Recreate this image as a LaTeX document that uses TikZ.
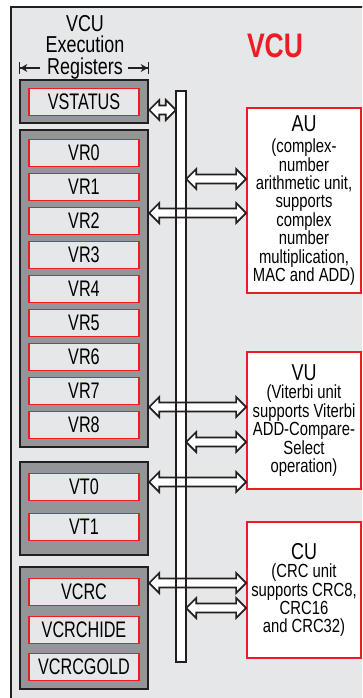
\documentclass[tikz,border=0pt]{standalone}
\usepackage{fontspec}
\setmainfont{Liberation Sans}[FakeStretch=0.78]
\newfontfamily\regfont{Liberation Sans}[FakeStretch=0.72]
\usetikzlibrary{arrows.meta,calc}
\definecolor{vcubg}{HTML}{E6E7E8}
\definecolor{grpgray}{HTML}{939598}
\definecolor{vcured}{HTML}{ED1C24}
\definecolor{inkblack}{HTML}{231F20}

\begin{document}
\begin{tikzpicture}[x=1pt,y=-1pt,
    grp/.style={draw=inkblack, line width=2.4pt, fill=grpgray, minimum width=128pt, inner sep=0pt},
    reg/.style={draw=vcured, line width=1.8pt, fill=vcubg, minimum width=110pt, minimum height=27pt,
      inner sep=0pt, font=\regfont\fontsize{22.5}{22.5}\selectfont},
    unit/.style={draw=vcured, line width=1.8pt, fill=white, minimum width=114pt, inner sep=0pt,
      align=center, font=\fontsize{19}{18.4}\selectfont},
    fatarrow/.style={draw=inkblack, line width=1.7pt, fill=white, line join=miter, to path={
      let \p1=(\tikztostart), \p2=(\tikztotarget) in
      (\x1,\y1) -- (\x1+10pt,\y1+10pt) -- (\x1+10pt,\y1+4.5pt) -- (\x2-10pt,\y1+4.5pt) -- (\x2-10pt,\y1+10pt)
      -- (\x2,\y1) -- (\x2-10pt,\y1-10pt) -- (\x2-10pt,\y1-4.5pt) -- (\x1+10pt,\y1-4.5pt) -- (\x1+10pt,\y1-10pt) -- cycle}},
    dimarrow/.style={draw=inkblack, line width=1.5pt, -{Stealth[length=7pt,width=8pt] Bar[width=12pt]}}]
    \useasboundingbox (0,0) rectangle (362,698);
    \clip (0,0) rectangle (362,698);
    \draw[fill=vcubg, draw=inkblack, line width=2pt] (11,7) rectangle (375,710);

    % titles
    \node[font=\fontsize{23}{21.5}\selectfont, align=center] (ttl) at (85,47) {VCU\\Execution\\Registers};
    \node[font=\bfseries\fontsize{34}{34}\selectfont, text=vcured] (vcu) at (275,46) {VCU};

    % register groups
    \node[grp, minimum height=43pt] (vsgrp) at (84,101.5) {};
    \node[reg] (vstatus) at (84,102) {VSTATUS};

    \node[grp, minimum height=317pt] (vrgrp) at (84,288.5) {};
    \foreach \i in {0,...,8}
        \node[reg] (vr\i) at (84,153+34*\i) {VR\i};

    \node[grp, minimum height=93pt] (vtgrp) at (84,508.5) {};
    \node[reg] (vt0) at (84,487) {VT0};
    \node[reg] (vt1) at (84,527) {VT1};

    \node[grp, minimum height=122pt] (crcgrp) at (84,628) {};
    \node[reg] (vcrc) at (84,592) {VCRC};
    \node[reg] (vcrchide) at (84,630) {VCRCHIDE};
    \node[reg] (vcrcgold) at (84,667) {VCRCGOLD};

    \draw[dimarrow] (40,68) -- (vsgrp.west |- 0,68);
    \draw[dimarrow] (128,68) -- (vsgrp.east |- 0,68);

    % units
    \node[unit, minimum height=185pt] (au) at (304,200.5)
        {{\fontsize{23}{23}\selectfont AU}\\[3pt](complex-\\number\\arithmetic unit,\\supports\\complex\\number\\multiplication,\\MAC and ADD)};
    \node[unit, minimum height=137pt] (vu) at (304,420.5)
        {{\fontsize{23}{23}\selectfont VU}\\(Viterbi unit\\supports Viterbi\\ADD-Compare-\\Select\\operation)};
    \node[unit, minimum height=136pt] (cu) at (304,590)
        {{\fontsize{23}{23}\selectfont CU}\\(CRC unit\\supports CRC8,\\CRC16\\and CRC32)};

    % bus and links
    \node[fill=white, minimum width=10pt, minimum height=571pt, inner sep=0pt] (bus) at (181,376.5) {};

    \draw[fatarrow] (vsgrp.east |- 0,110) to (bus.west |- 0,110);
    \draw[fatarrow] (bus.east |- 0,179) to (au.west |- 0,179);
    \draw[fatarrow] (vrgrp.east |- 0,213) to (au.west |- 0,213);
    \draw[fatarrow] (vrgrp.east |- 0,407) to (vu.west |- 0,407);
    \draw[fatarrow] (bus.east |- 0,442) to (vu.west |- 0,442);
    \draw[fatarrow] (vtgrp.east |- 0,482) to (vu.west |- 0,482);
    \draw[fatarrow] (crcgrp.east |- 0,583) to (cu.west |- 0,583);
    \draw[fatarrow] (bus.east |- 0,608) to (cu.west |- 0,608);

    \draw[draw=inkblack, line width=1.5pt] (bus.north west) rectangle (bus.south east);
\end{tikzpicture}
\end{document}
